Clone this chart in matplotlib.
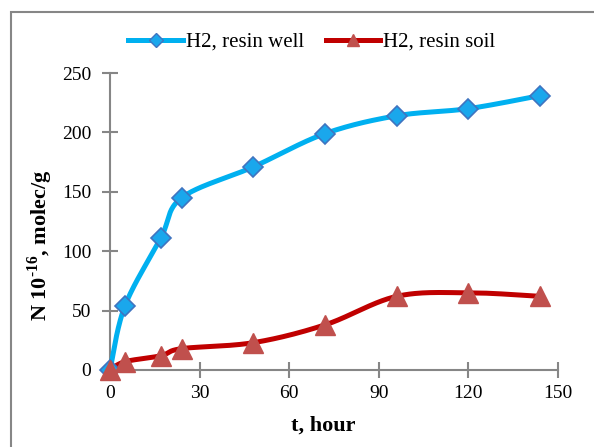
import numpy as np
import matplotlib.pyplot as plt
from matplotlib.patches import Rectangle
from matplotlib.lines import Line2D

# data
hours = [0, 5, 17, 24, 48, 72, 96, 120, 144]
resin_well = [0, 54, 111, 145, 171, 199, 214, 220, 231]
resin_soil = [0, 7, 12, 18, 23, 38, 62, 65, 62]

x_ticks = [0, 30, 60, 90, 120, 150]
y_ticks = [0, 50, 100, 150, 200, 250]


def smooth(xs, ys, n=40):
    # Excel-like smoothed line (cubic bezier through the points)
    p = np.column_stack([xs, ys]).astype(float)
    p = np.vstack([p[0], p, p[-1]])
    out = []
    t = np.linspace(0, 1, n)[:, None]
    for i in range(1, len(p) - 2):
        p0, p1, p2, p3 = p[i - 1], p[i], p[i + 1], p[i + 2]
        c1 = p1 + (p2 - p0) / 6
        c2 = p2 - (p3 - p1) / 6
        seg = ((1 - t) ** 3) * p1 + 3 * ((1 - t) ** 2) * t * c1 + 3 * (1 - t) * t ** 2 * c2 + t ** 3 * p2
        out.append(seg)
    out = np.vstack(out)
    return out[:, 0], out[:, 1]


plt.rcParams['font.family'] = ['Liberation Serif', 'DejaVu Serif']
plt.rcParams['mathtext.fontset'] = 'custom'
plt.rcParams['mathtext.rm'] = 'Liberation Serif'
plt.rcParams['mathtext.bf'] = 'Liberation Serif:bold'

fig = plt.figure(figsize=(5.94, 4.47), dpi=100)
ax = fig.add_axes([110 / 594, 77 / 447, 448 / 594, 297 / 447])

# outer frame
fig.patches.append(Rectangle((11 / 594, -0.1), 1.2, (435 + 44.7) / 447, transform=fig.transFigure,
                             fill=False, edgecolor='#868686', linewidth=1.5))

blue = '#00B0F0'
red = '#C00000'

sx, sy = smooth(hours, resin_well)
ax.plot(sx, sy, color=blue, linewidth=3.6, solid_capstyle='round', zorder=3, clip_on=False)
ax.plot(hours, resin_well, linestyle='none', marker='D', markersize=10,
        markerfacecolor='#1AA7EC', markeredgecolor='#3F74C0', markeredgewidth=1.2,
        zorder=4, clip_on=False)

sx, sy = smooth(hours, resin_soil)
ax.plot(sx, sy, color=red, linewidth=3.6, solid_capstyle='round', zorder=3, clip_on=False)
ax.plot(hours, resin_soil, linestyle='none', marker='^', markersize=14,
        markerfacecolor='#C0504D', markeredgecolor='#C0504D', zorder=5, clip_on=False)

ax.set_xlim(0, 150)
ax.set_ylim(0, 250)
ax.set_xticks(x_ticks)
ax.set_yticks(y_ticks)
for s in ['top', 'right']:
    ax.spines[s].set_visible(False)
for s in ['left', 'bottom']:
    ax.spines[s].set_color('#868686')
    ax.spines[s].set_linewidth(1.5)
ax.tick_params(direction='inout', length=11, width=1.5, color='#868686', labelsize=14)
ax.tick_params(axis='x', pad=5.5)
ax.tick_params(axis='y', pad=8)
ax.set_xlabel('t, hour', fontsize=16, fontweight='bold')
ax.xaxis.set_label_coords(0.476, -0.155)
ax.set_ylabel('N 10$^{\\mathbf{\u201016}}$, molec/g', fontsize=16, fontweight='bold')
ax.yaxis.set_label_coords(-0.122, 0.42)
ax.patch.set_visible(False)

# legend handles
h1 = Line2D([], [], color=blue, linewidth=3.6, marker='D', markersize=7,
            markerfacecolor='#1AA7EC', markeredgecolor='#3F74C0')
h2 = Line2D([], [], color=red, linewidth=3.6, marker='^', markersize=9,
            markerfacecolor='#C0504D', markeredgecolor='#C0504D')
fig.legend([h1, h2], ['H2, resin well', 'H2, resin soil'], loc='center',
           bbox_to_anchor=(0.525, 1 - 42 / 447), ncol=2, frameon=False, fontsize=15,
           handlelength=2.6, handletextpad=0.15, columnspacing=1.05)

fig.savefig('out.png', dpi=100)
